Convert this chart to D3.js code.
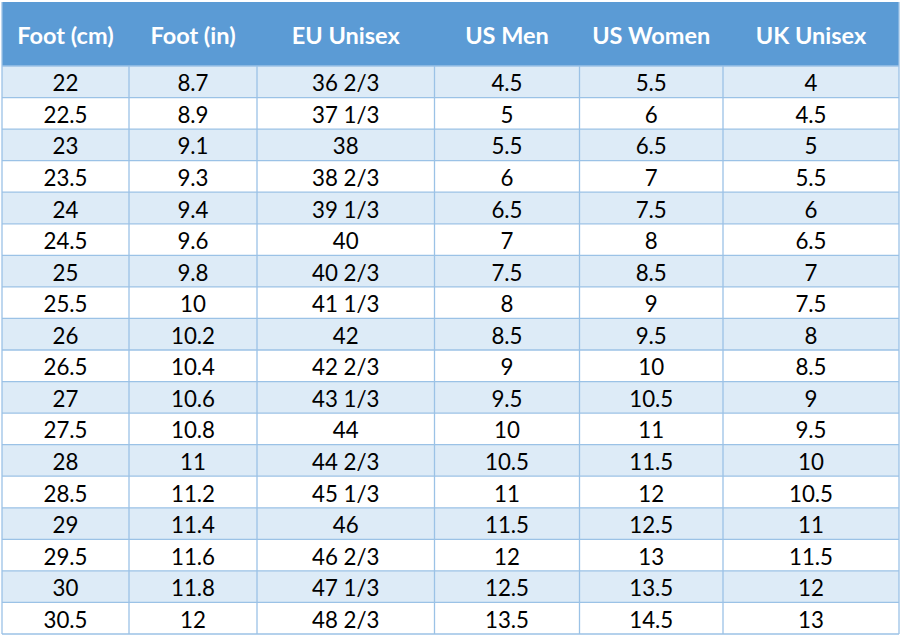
<!DOCTYPE html>
<html><head><meta charset="utf-8">
<script src="https://cdn.jsdelivr.net/npm/d3@7"></script>
<style>html,body{margin:0;padding:0;background:#fff;}</style>
</head><body>
<svg id="chart" width="901" height="636"></svg>
<script>
const headers = ["Foot (cm)", "Foot (in)", "EU Unisex", "US Men", "US Women", "UK Unisex"];
const footCm = ["22","22.5","23","23.5","24","24.5","25","25.5","26","26.5","27","27.5","28","28.5","29","29.5","30","30.5"];
const footIn = ["8.7","8.9","9.1","9.3","9.4","9.6","9.8","10","10.2","10.4","10.6","10.8","11","11.2","11.4","11.6","11.8","12"];
const euUnisex = ["36 2/3","37 1/3","38","38 2/3","39 1/3","40","40 2/3","41 1/3","42","42 2/3","43 1/3","44","44 2/3","45 1/3","46","46 2/3","47 1/3","48 2/3"];
const usMen = ["4.5","5","5.5","6","6.5","7","7.5","8","8.5","9","9.5","10","10.5","11","11.5","12","12.5","13.5"];
const usWomen = ["5.5","6","6.5","7","7.5","8","8.5","9","9.5","10","10.5","11","11.5","12","12.5","13","13.5","14.5"];
const ukUnisex = ["4","4.5","5","5.5","6","6.5","7","7.5","8","8.5","9","9.5","10","10.5","11","11.5","12","13"];

const columns = [footCm, footIn, euUnisex, usMen, usWomen, ukUnisex];
const rows = footCm.map((d, i) => ({ i, cells: columns.map(c => c[i]) }));

// layout
const colEdges = [2, 129, 257, 434.5, 579.5, 723, 899];
const tableTop = 2, headerBottom = 66, tableBottom = 634;
const font = "Lato, 'Open Sans', sans-serif";

const svg = d3.select("#chart");
const y = d3.scaleBand().domain(d3.range(rows.length)).range([headerBottom, tableBottom]).padding(0);
const xIdx = d3.scaleOrdinal().domain(d3.range(headers.length)).range(colEdges.slice(0, -1));
const colW = i => colEdges[i + 1] - colEdges[i];

// header
svg.append("rect").attr("x", colEdges[0]).attr("y", tableTop)
  .attr("width", colEdges[6] - colEdges[0]).attr("height", headerBottom - tableTop)
  .attr("fill", "#5B9BD5");
svg.selectAll("text.h").data(headers).join("text").attr("class", "h")
  .attr("x", (d, i) => xIdx(i) + colW(i) / 2)
  .attr("y", (tableTop + headerBottom) / 2 + 1)
  .attr("text-anchor", "middle").attr("dominant-baseline", "central")
  .attr("font-family", font).attr("font-weight", "bold").attr("font-size", 23.5)
  .attr("fill", "#fff").text(d => d);

// row backgrounds
svg.selectAll("rect.row").data(rows).join("rect").attr("class", "row")
  .attr("x", colEdges[0]).attr("y", d => y(d.i))
  .attr("width", colEdges[6] - colEdges[0]).attr("height", y.bandwidth())
  .attr("fill", d => d.i % 2 === 0 ? "#DDEBF7" : "#FFFFFF");

// grid lines
const g = svg.append("g").attr("stroke", "#9BC2E6").attr("stroke-width", 1.3);
d3.range(rows.length + 1).forEach(i => {
  const yy = i < rows.length ? y(i) : tableBottom;
  g.append("line").attr("x1", colEdges[0]).attr("x2", colEdges[6]).attr("y1", yy).attr("y2", yy);
});
colEdges.forEach((x, i) => {
  const y0 = (i === 0 || i === colEdges.length - 1) ? tableTop : headerBottom;
  g.append("line").attr("x1", x).attr("x2", x).attr("y1", y0).attr("y2", tableBottom);
});

// cells text
const rg = svg.selectAll("g.r").data(rows).join("g").attr("class", "r")
  .attr("transform", d => `translate(0,${y(d.i) + y.bandwidth() / 2 + 1})`);
rg.selectAll("text").data(d => d.cells).join("text")
  .attr("x", (d, i) => xIdx(i) + colW(i) / 2)
  .attr("y", 0)
  .attr("text-anchor", "middle").attr("dominant-baseline", "central")
  .attr("font-family", font).attr("font-size", 22.3).attr("fill", "#000")
  .text(d => d);
</script>
</body></html>
